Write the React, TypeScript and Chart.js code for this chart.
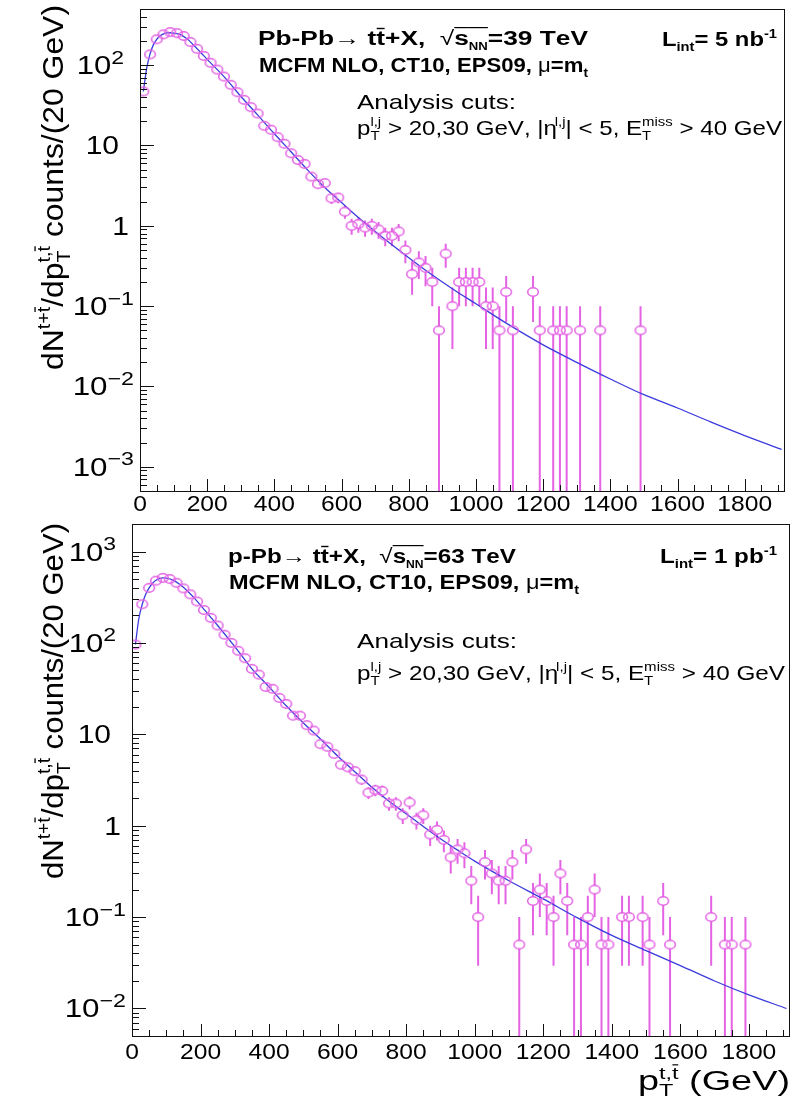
import React, { useEffect, useRef } from "react";
import { Chart, registerables } from "chart.js";

Chart.register(...registerables);

// ---------------- data ----------------
const TOP_BIN_X = [10, 30, 50, 70, 90, 110, 130, 150, 170, 190, 210, 230, 250, 270, 290, 310, 330, 350, 370, 390, 410, 430, 450, 470, 490, 510, 530, 550, 570, 590, 610, 630, 650, 670, 690, 710, 730, 750, 770, 790, 810, 830, 850, 870, 890, 910, 930, 950, 970, 990, 1010, 1030, 1050, 1070, 1090, 1110, 1170, 1190, 1230, 1250, 1270, 1310, 1370, 1490];
const TOP_COUNTS = [47, 136, 210, 242, 258, 250, 231, 194, 160, 130, 107, 88, 72, 57, 46, 37, 30, 25, 17.6, 15.7, 12.7, 10.5, 8.0, 6.6, 5.9, 4.1, 3.3, 3.4, 2.2, 2.25, 1.5, 1.0, 1.05, 0.95, 1.0, 0.9, 0.75, 0.75, 0.85, 0.5, 0.25, 0.35, 0.3, 0.2, 0.05, 0.45, 0.1, 0.2, 0.2, 0.2, 0.2, 0.1, 0.1, 0.05, 0.15, 0.05, 0.15, 0.05, 0.05, 0.05, 0.05, 0.05, 0.05, 0.05];
const TOP_CURVE_X = [10, 20, 30, 40, 50, 60, 70, 80, 90, 100, 120, 140, 160, 180, 200, 250, 300, 350, 400, 450, 500, 550, 600, 650, 700, 750, 800, 850, 900, 950, 1000, 1100, 1200, 1300, 1400, 1500, 1600, 1700, 1800, 1910];
const TOP_CURVE_Y = [47, 92, 138, 180, 210, 232, 245, 252, 253, 250, 240, 213, 177, 145, 118, 72, 41, 24, 14, 8.3, 4.9, 3.0, 1.95, 1.27, 0.85, 0.58, 0.4, 0.28, 0.2, 0.145, 0.107, 0.058, 0.033, 0.02, 0.0124, 0.0079, 0.0054, 0.0036, 0.00245, 0.00165];

const BOT_BIN_X = [10, 30, 50, 70, 90, 110, 130, 150, 170, 190, 210, 230, 250, 270, 290, 310, 330, 350, 370, 390, 410, 430, 450, 470, 490, 510, 530, 550, 570, 590, 610, 630, 650, 670, 690, 710, 730, 750, 770, 790, 810, 830, 850, 870, 890, 910, 930, 950, 970, 990, 1010, 1030, 1050, 1070, 1090, 1110, 1130, 1150, 1170, 1190, 1210, 1230, 1250, 1270, 1290, 1310, 1330, 1350, 1370, 1390, 1430, 1450, 1490, 1510, 1550, 1570, 1690, 1730, 1750, 1790];
const BOT_COUNTS = [96, 265, 400, 480, 515, 500, 455, 395, 340, 284, 229, 188, 155, 123, 100, 82, 68, 52, 45, 33, 31.5, 25, 21.5, 16, 16, 12.6, 11, 7.8, 7.3, 6.1, 4.65, 4.35, 3.95, 3.2, 2.3, 2.45, 2.4, 1.75, 1.75, 1.3, 1.8, 1.15, 1.3, 0.8, 0.9, 0.7, 0.45, 0.55, 0.5, 0.25, 0.1, 0.4, 0.3, 0.25, 0.25, 0.4, 0.05, 0.55, 0.15, 0.2, 0.15, 0.1, 0.3, 0.15, 0.05, 0.05, 0.1, 0.2, 0.05, 0.05, 0.1, 0.1, 0.1, 0.05, 0.15, 0.05, 0.1, 0.05, 0.05, 0.05];
const BOT_CURVE_X = [10, 20, 30, 40, 50, 60, 70, 80, 90, 100, 120, 140, 160, 180, 200, 250, 300, 350, 400, 450, 500, 550, 600, 650, 700, 750, 800, 850, 900, 950, 1000, 1100, 1200, 1300, 1400, 1500, 1600, 1700, 1800, 1910];
const BOT_CURVE_Y = [96, 185, 265, 340, 400, 450, 485, 505, 515, 512, 487, 435, 375, 315, 258, 155, 91, 52, 33, 20.5, 13.3, 8.9, 5.8, 3.9, 2.63, 1.85, 1.35, 0.98, 0.72, 0.54, 0.41, 0.25, 0.158, 0.098, 0.063, 0.043, 0.0295, 0.02, 0.0141, 0.01];

const EVENT_WEIGHT = 0.05; // counts per event: Poisson error = sqrt(value * weight)

const X_TICK_VALUES = [0, 200, 400, 600, 800, 1000, 1200, 1400, 1600, 1800];
const TOP_Y_TICKS = [100, 10, 1, 0.1, 0.01, 0.001];
const TOP_Y_TICK_LABELS = ["10^2", "10", "1", "10^-1", "10^-2", "10^-3"];
const BOT_Y_TICKS = [1000, 100, 10, 1, 0.1, 0.01];
const BOT_Y_TICK_LABELS = ["10^3", "10^2", "10", "1", "10^-1", "10^-2"];

// ---------------- text ----------------
type Seg = { t?: string; sub?: string; sup?: string; over?: boolean; bold?: boolean; r?: number };

const Y_TITLE: Seg[] = [{ t: "dN" }, { sup: "t+t\u0304" }, { t: "/dp" }, { sub: "T", sup: "t,t\u0304" }, { t: " counts/(20 GeV)" }];
const X_TITLE: Seg[] = [{ t: "p" }, { sub: "T", sup: "t,t\u0304" }, { t: " (GeV)" }];
const TOP_LINE1: Seg[] = [{ t: "Pb-Pb" }, { t: "\u2192 ", bold: false }, { t: "tt\u0304+X,  " }, { t: "\u221A", bold: false }, { t: "s", over: true }, { sub: "NN", over: true, r: 0.5 }, { t: "=39 TeV" }];
const BOT_LINE1: Seg[] = [{ t: "p-Pb" }, { t: "\u2192 ", bold: false }, { t: "tt\u0304+X,  " }, { t: "\u221A", bold: false }, { t: "s", over: true }, { sub: "NN", over: true, r: 0.5 }, { t: "=63 TeV" }];
const LINE2: Seg[] = [{ t: "MCFM NLO, CT10, EPS09, " }, { t: "\u03BC", bold: false }, { t: "=m" }, { sub: "t" }];
const TOP_LUMI: Seg[] = [{ t: "L" }, { sub: "int" }, { t: "= 5 nb" }, { sup: "-1" }];
const BOT_LUMI: Seg[] = [{ t: "L" }, { sub: "int" }, { t: "= 1 pb" }, { sup: "-1" }];
const CUTS1: Seg[] = [{ t: "Analysis cuts:" }];
const CUTS2: Seg[] = [{ t: "p" }, { sub: "T", sup: "l,j" }, { t: " > 20,30 GeV, |\u03B7" }, { sup: "l,j" }, { t: "| < 5, E" }, { sub: "T", sup: "miss" }, { t: " > 40 GeV" }];

const FAM = '"Liberation Sans", Arial, Helvetica, sans-serif';
const MARKER_COLOR = "#e462e4";
const CURVE_COLOR = "#3b3bdc";
const RX = 5.3;
const RY = 4.2;

function drawRich(ctx: CanvasRenderingContext2D, segs: Seg[], x: number, y: number, S: number, bold: boolean, align: string, targetW?: number, supR = 0.62) {
  const font = (size: number, b: boolean) => `${b ? "bold " : ""}${size}px ${FAM}`;
  const clean = (s: string) => s.replace(/\u0304/g, "");
  const widths = segs.map((sg) => {
    const b = sg.bold ?? bold;
    if (sg.t !== undefined) {
      ctx.font = font(S, b);
      return ctx.measureText(clean(sg.t)).width;
    }
    const r = sg.r ?? supR;
    ctx.font = font(S * r, b);
    return Math.max(sg.sub ? ctx.measureText(clean(sg.sub)).width : 0, sg.sup ? ctx.measureText(clean(sg.sup)).width : 0);
  });
  const natural = widths.reduce((a, b) => a + b, 0);
  const stretch = targetW ? targetW / natural : 1;
  const total = natural * stretch;
  ctx.save();
  ctx.translate(x - (align === "right" ? total : align === "center" ? total / 2 : 0), y);
  ctx.scale(stretch, 1);
  ctx.textAlign = "left";
  ctx.textBaseline = "alphabetic";
  const drawStr = (s: string, px: number, py: number, size: number, b: boolean) => {
    ctx.font = font(size, b);
    let xx = px;
    const chars = Array.from(s);
    for (let i = 0; i < chars.length; i++) {
      const ch = chars[i];
      if (ch === "\u0304") continue;
      const w = ctx.measureText(ch).width;
      ctx.fillText(ch, xx, py);
      if (chars[i + 1] === "\u0304") ctx.fillRect(xx + w * 0.05, py - size * 0.86, w * 0.9, Math.max(1, size * 0.07));
      xx += w;
    }
  };
  let cx = 0;
  segs.forEach((sg, i) => {
    const b = sg.bold ?? bold;
    if (sg.t !== undefined) {
      drawStr(sg.t, cx, 0, S, b);
    } else {
      const r = sg.r ?? supR;
      if (sg.sub) drawStr(sg.sub, cx, S * 0.24, S * r, b);
      if (sg.sup) drawStr(sg.sup, cx, -S * 0.42, S * r, b);
    }
    if (sg.over) ctx.fillRect(cx, -S * 0.9, widths[i], Math.max(1, S * 0.06));
    cx += widths[i];
  });
  ctx.restore();
}

type Ann = { segs: Seg[]; x: number; y: number; size: number; bold: boolean; align: string; w: number };

type PanelCfg = {
  offsetY: number;
  height: number;
  left: number;
  right: number;
  top: number;
  bottom: number;
  yMin: number;
  yMax: number;
  binX: number[];
  counts: number[];
  curveX: number[];
  curveY: number[];
  yTicks: number[];
  yTickLabels: string[];
  xLabelDy: number;
  titleX: number;
  titleTop: number;
  titleLen: number;
  anns: Ann[];
  xTitle?: Ann;
};

function makeMarker() {
  const c = document.createElement("canvas");
  c.width = 14;
  c.height = 12;
  const g = c.getContext("2d")!;
  g.strokeStyle = MARKER_COLOR;
  g.lineWidth = 1.5;
  g.beginPath();
  g.ellipse(7, 6, RX, RY, 0, 0, Math.PI * 2);
  g.stroke();
  return c;
}

function makeDecor(cfg: PanelCfg) {
  return {
    id: "decor",
    beforeDatasetsDraw(chart: any) {
      const { ctx, chartArea: a } = chart;
      const x = chart.scales.x;
      const y = chart.scales.y;
      ctx.save();
      ctx.beginPath();
      ctx.rect(a.left, a.top, a.right - a.left, a.bottom - a.top);
      ctx.clip();
      ctx.strokeStyle = MARKER_COLOR;
      ctx.lineWidth = 2;
      cfg.binX.forEach((bx, i) => {
        const v = cfg.counts[i];
        const e = Math.sqrt(v * EVENT_WEIGHT);
        const px = x.getPixelForValue(bx);
        const pc = y.getPixelForValue(v);
        const hi = y.getPixelForValue(v + e);
        const lo = v - e > 1e-9 ? y.getPixelForValue(v - e) : a.bottom + 2;
        ctx.beginPath();
        if (pc - hi > RY) {
          ctx.moveTo(px, pc - RY);
          ctx.lineTo(px, hi);
        }
        if (lo - pc > RY) {
          ctx.moveTo(px, pc + RY);
          ctx.lineTo(px, lo);
        }
        ctx.stroke();
      });
      ctx.restore();
    },
    afterDraw(chart: any) {
      const { ctx, chartArea: a } = chart;
      const x = chart.scales.x;
      const y = chart.scales.y;
      const oy = cfg.offsetY;
      ctx.save();
      ctx.strokeStyle = "#111";
      ctx.lineWidth = 1;
      ctx.strokeRect(a.left + 0.5, a.top + 0.5, a.right - a.left - 1, a.bottom - a.top);
      ctx.beginPath();
      for (let t = 0; t <= 1920; t += 50) {
        const px = Math.round(x.getPixelForValue(t)) + 0.5;
        const len = t % 200 === 0 ? 12 : 6;
        ctx.moveTo(px, a.bottom);
        ctx.lineTo(px, a.bottom - len);
      }
      const dMin = Math.floor(Math.log10(cfg.yMin));
      const dMax = Math.ceil(Math.log10(cfg.yMax));
      for (let d = dMin; d <= dMax; d++) {
        for (let m = 1; m <= 9; m++) {
          const v = m * Math.pow(10, d);
          if (v < cfg.yMin || v > cfg.yMax) continue;
          const py = Math.round(y.getPixelForValue(v)) + 0.5;
          const len = m === 1 ? 14 : 7;
          ctx.moveTo(a.left, py);
          ctx.lineTo(a.left + len, py);
        }
      }
      ctx.stroke();

      ctx.fillStyle = "#000";
      X_TICK_VALUES.forEach((t) => {
        const s = String(t);
        ctx.font = `22px ${FAM}`;
        const w = ctx.measureText(s).width * 1.12;
        drawRich(ctx, [{ t: s }], x.getPixelForValue(t), a.bottom + cfg.xLabelDy, 22, false, "center", w);
      });

      cfg.yTicks.forEach((v, i) => {
        const lab = cfg.yTickLabels[i];
        const py = y.getPixelForValue(v) + 9;
        const parts = lab.split("^");
        ctx.font = `25px ${FAM}`;
        const w10 = ctx.measureText(parts[0]).width * 1.2;
        if (parts.length === 2) {
          const neg = parts[1].startsWith("-");
          const w = w10 + (neg ? 28 : 14);
          drawRich(ctx, [{ t: parts[0] }, { sup: parts[1].replace("-", "\u2212") }], a.left - (neg ? 6 : 16), py, 25, false, "right", w, 0.74);
        } else if (lab === "10") {
          drawRich(ctx, [{ t: lab }], a.left - 21, py, 25, false, "right", w10);
        } else {
          drawRich(ctx, [{ t: lab }], a.left - 11, py, 25, false, "right", w10);
        }
      });

      ctx.save();
      ctx.translate(cfg.titleX, cfg.titleTop - oy);
      ctx.rotate(-Math.PI / 2);
      drawRich(ctx, Y_TITLE, 0, 0, 30, false, "right", cfg.titleLen);
      ctx.restore();

      cfg.anns.forEach((an) => drawRich(ctx, an.segs, an.x, an.y - oy, an.size, an.bold, an.align, an.w));
      if (cfg.xTitle) {
        const an = cfg.xTitle;
        drawRich(ctx, an.segs, an.x, an.y - oy, an.size, an.bold, an.align, an.w);
      }
      ctx.restore();
    },
  };
}

function Panel({ cfg }: { cfg: PanelCfg }) {
  const ref = useRef<HTMLCanvasElement | null>(null);
  useEffect(() => {
    const canvas = ref.current!;
    const marker = makeMarker();
    const chart = new Chart(canvas, {
      type: "scatter",
      data: {
        datasets: [
          {
            type: "line",
            data: cfg.curveX.map((vx, i) => ({ x: vx, y: cfg.curveY[i] })),
            borderColor: CURVE_COLOR,
            borderWidth: 1.3,
            pointRadius: 0,
            cubicInterpolationMode: "monotone",
            fill: false,
            order: 2,
          } as any,
          {
            type: "scatter",
            data: cfg.binX.map((vx, i) => ({ x: vx, y: cfg.counts[i] })),
            pointStyle: marker as any,
            pointRadius: 6,
            order: 1,
          } as any,
        ],
      },
      options: {
        animation: false,
        responsive: false,
        maintainAspectRatio: false,
        events: [],
        layout: { padding: { left: 0, right: 798 - cfg.right, top: cfg.top, bottom: 0 } },
        plugins: { legend: { display: false }, tooltip: { enabled: false }, title: { display: false } },
        scales: {
          x: {
            type: "linear",
            min: 0,
            max: 1920,
            grid: { display: false },
            border: { display: false },
            ticks: { display: false },
            afterFit: (s: any) => {
              s.height = cfg.height - cfg.bottom;
            },
          },
          y: {
            type: "logarithmic",
            min: cfg.yMin,
            max: cfg.yMax,
            grid: { display: false },
            border: { display: false },
            ticks: { display: false },
            afterFit: (s: any) => {
              s.width = cfg.left;
            },
          },
        },
      } as any,
      plugins: [makeDecor(cfg)],
    });
    return () => chart.destroy();
  }, [cfg]);
  return (
    <canvas
      ref={ref}
      width={798}
      height={cfg.height}
      style={{ position: "absolute", left: 0, top: cfg.offsetY, width: 798, height: cfg.height }}
    />
  );
}

const TOP_CFG: PanelCfg = {
  offsetY: 0,
  height: 516,
  left: 140,
  right: 785,
  top: 9,
  bottom: 491,
  yMin: 5e-4,
  yMax: 500,
  binX: TOP_BIN_X,
  counts: TOP_COUNTS,
  curveX: TOP_CURVE_X,
  curveY: TOP_CURVE_Y,
  yTicks: TOP_Y_TICKS,
  yTickLabels: TOP_Y_TICK_LABELS,
  xLabelDy: 20,
  titleX: 63,
  titleTop: 5,
  titleLen: 365,
  anns: [
    { segs: TOP_LINE1, x: 258, y: 45, size: 20, bold: true, align: "left", w: 328 },
    { segs: LINE2, x: 259, y: 72, size: 20, bold: true, align: "left", w: 329 },
    { segs: TOP_LUMI, x: 777, y: 46, size: 20, bold: true, align: "right", w: 115 },
    { segs: CUTS1, x: 357, y: 109, size: 21, bold: false, align: "left", w: 159 },
    { segs: CUTS2, x: 357, y: 135, size: 21, bold: false, align: "left", w: 425 },
  ],
};

const BOT_CFG: PanelCfg = {
  offsetY: 516,
  height: 583,
  left: 132,
  right: 790,
  top: 8,
  bottom: 520,
  yMin: 5e-3,
  yMax: 2000,
  binX: BOT_BIN_X,
  counts: BOT_COUNTS,
  curveX: BOT_CURVE_X,
  curveY: BOT_CURVE_Y,
  yTicks: BOT_Y_TICKS,
  yTickLabels: BOT_Y_TICK_LABELS,
  xLabelDy: 23,
  titleX: 63,
  titleTop: 523,
  titleLen: 356,
  anns: [
    { segs: BOT_LINE1, x: 228, y: 563, size: 20, bold: true, align: "left", w: 286 },
    { segs: LINE2, x: 229, y: 589, size: 20, bold: true, align: "left", w: 350 },
    { segs: BOT_LUMI, x: 777, y: 563, size: 20, bold: true, align: "right", w: 117 },
    { segs: CUTS1, x: 357, y: 648, size: 21, bold: false, align: "left", w: 160 },
    { segs: CUTS2, x: 357, y: 680, size: 21, bold: false, align: "left", w: 428 },
  ],
  xTitle: { segs: X_TITLE, x: 790, y: 1090, size: 27, bold: false, align: "right", w: 152 },
};

export default function App() {
  return (
    <div style={{ position: "absolute", left: 0, top: 0, width: 798, height: 1099, background: "#fff" }}>
      <Panel cfg={TOP_CFG} />
      <Panel cfg={BOT_CFG} />
    </div>
  );
}
